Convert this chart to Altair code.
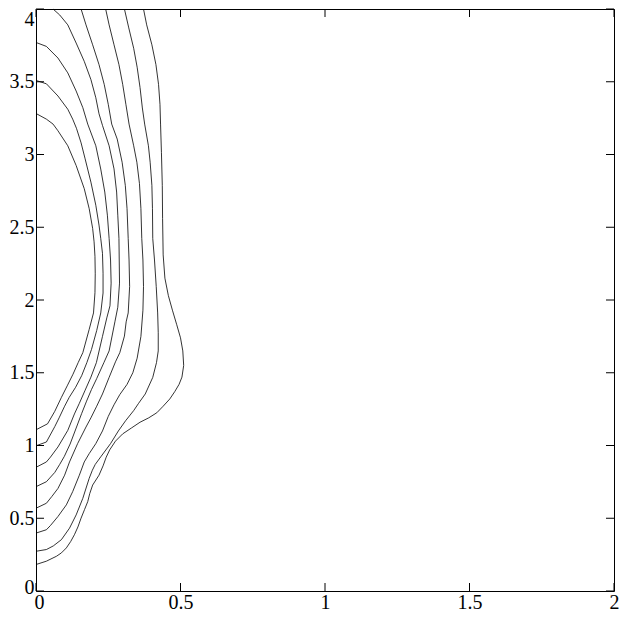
import altair as alt
import pandas as pd

x_ticks = [0, 0.5, 1, 1.5, 2]
y_ticks = [0, 0.5, 1, 1.5, 2, 2.5, 3, 3.5, 4]

contour_1 = [(0, 3.282), (0.036, 3.243), (0.059, 3.209), (0.076, 3.163), (0.110, 3.060), (0.139, 2.924),
             (0.167, 2.765), (0.184, 2.628), (0.196, 2.492), (0.201, 2.40), (0.204, 2.30), (0.205, 2.18),
             (0.204, 2.05), (0.199, 1.911), (0.184, 1.798), (0.162, 1.638), (0.146, 1.57), (0.128, 1.49),
             (0.108, 1.41), (0.088, 1.331), (0.065, 1.235), (0.040, 1.149), (0, 1.108)]
contour_2 = [(0, 3.509), (0.036, 3.486), (0.076, 3.402), (0.110, 3.311), (0.127, 3.243), (0.140, 3.18),
             (0.156, 3.08), (0.170, 2.97), (0.190, 2.81), (0.207, 2.651), (0.218, 2.515), (0.224, 2.423),
             (0.230, 2.321), (0.232, 2.184), (0.232, 2.048), (0.224, 1.911), (0.210, 1.79), (0.192, 1.66),
             (0.176, 1.57), (0.158, 1.48), (0.137, 1.40), (0.115, 1.331), (0.099, 1.27), (0.080, 1.19),
             (0.065, 1.13), (0.036, 1.024), (0, 0.998)]
contour_3 = [(0, 3.770), (0.036, 3.743), (0.076, 3.663), (0.110, 3.561), (0.139, 3.436), (0.162, 3.322),
             (0.179, 3.209), (0.207, 3.06), (0.224, 2.90), (0.238, 2.742), (0.247, 2.583), (0.253, 2.423),
             (0.258, 2.275), (0.260, 2.116), (0.256, 1.96), (0.245, 1.877), (0.230, 1.75), (0.209, 1.57),
             (0.190, 1.47), (0.170, 1.38), (0.150, 1.29), (0.133, 1.217), (0.110, 1.104), (0.076, 0.990),
             (0.050, 0.92), (0.036, 0.887), (0, 0.850)]
contour_4 = [(0.059, 4.0), (0.082, 3.959), (0.110, 3.891), (0.139, 3.766), (0.167, 3.64), (0.190, 3.515),
             (0.207, 3.39), (0.218, 3.28), (0.230, 3.2), (0.253, 3.06), (0.270, 2.901), (0.279, 2.742),
             (0.283, 2.583), (0.287, 2.423), (0.288, 2.275), (0.289, 2.116), (0.283, 1.95), (0.273, 1.85),
             (0.253, 1.65), (0.235, 1.57), (0.210, 1.46), (0.192, 1.385), (0.175, 1.305), (0.158, 1.22),
             (0.139, 1.12), (0.118, 1.01), (0.098, 0.925), (0.082, 0.87), (0.065, 0.815), (0.036, 0.751),
             (0, 0.717)]
contour_5 = [(0.156, 4.0), (0.173, 3.891), (0.196, 3.754), (0.218, 3.618), (0.236, 3.482), (0.250, 3.345),
             (0.262, 3.209), (0.281, 3.106), (0.298, 2.947), (0.309, 2.788), (0.315, 2.628), (0.319, 2.423),
             (0.322, 2.275), (0.324, 2.093), (0.319, 1.911), (0.312, 1.85), (0.306, 1.752), (0.290, 1.638),
             (0.275, 1.575), (0.253, 1.468), (0.230, 1.354), (0.210, 1.27), (0.190, 1.19), (0.173, 1.127),
             (0.144, 1.013), (0.116, 0.887), (0.099, 0.796), (0.076, 0.705), (0.055, 0.65), (0.036, 0.603),
             (0, 0.569)]
contour_6 = [(0.241, 4.0), (0.253, 3.891), (0.270, 3.754), (0.287, 3.618), (0.300, 3.482), (0.311, 3.345),
             (0.322, 3.209), (0.338, 3.06), (0.349, 2.947), (0.358, 2.8), (0.363, 2.628), (0.366, 2.423),
             (0.370, 2.275), (0.372, 2.093), (0.370, 1.93), (0.363, 1.75), (0.350, 1.60), (0.335, 1.50),
             (0.315, 1.42), (0.290, 1.35), (0.270, 1.28), (0.250, 1.20), (0.230, 1.10), (0.207, 1.013),
             (0.184, 0.944), (0.167, 0.887), (0.150, 0.796), (0.127, 0.683), (0.105, 0.592), (0.076, 0.512),
             (0.050, 0.45), (0.036, 0.421), (0, 0.398)]
contour_7 = [(0.306, 4.0), (0.321, 3.87), (0.338, 3.73), (0.350, 3.60), (0.360, 3.46), (0.368, 3.32),
             (0.376, 3.209), (0.389, 3.06), (0.395, 2.947), (0.401, 2.788), (0.403, 2.628), (0.404, 2.423),
             (0.410, 2.275), (0.416, 2.093), (0.421, 1.911), (0.423, 1.775), (0.423, 1.65), (0.417, 1.57),
             (0.404, 1.468), (0.378, 1.354), (0.355, 1.29), (0.338, 1.24), (0.310, 1.17), (0.285, 1.10),
             (0.258, 1.013), (0.224, 0.922), (0.205, 0.87), (0.195, 0.83), (0.184, 0.774), (0.162, 0.637),
             (0.139, 0.523), (0.116, 0.432), (0.088, 0.353), (0.060, 0.31), (0.036, 0.285), (0, 0.273)]
contour_8 = [(0.372, 4.0), (0.383, 3.891), (0.401, 3.754), (0.415, 3.618), (0.424, 3.482), (0.429, 3.345),
             (0.431, 3.209), (0.434, 3.015), (0.437, 2.788), (0.438, 2.56), (0.440, 2.31), (0.446, 2.15),
             (0.458, 2.03), (0.472, 1.93), (0.487, 1.83), (0.500, 1.74), (0.508, 1.65), (0.511, 1.55),
             (0.505, 1.47), (0.495, 1.42), (0.480, 1.37), (0.463, 1.32), (0.440, 1.27), (0.418, 1.225),
             (0.390, 1.19), (0.360, 1.16), (0.330, 1.12), (0.300, 1.08), (0.275, 1.03), (0.255, 0.97),
             (0.243, 0.92), (0.232, 0.86), (0.218, 0.796), (0.196, 0.728), (0.186, 0.67), (0.179, 0.614),
             (0.168, 0.56), (0.156, 0.501), (0.145, 0.44), (0.133, 0.387), (0.120, 0.34), (0.105, 0.296),
             (0.088, 0.262), (0.071, 0.239), (0.036, 0.205), (0, 0.182)]

contours = [contour_1, contour_2, contour_3, contour_4, contour_5, contour_6, contour_7, contour_8]

rows = []
for i, c in enumerate(contours):
    for j, (x, y) in enumerate(c):
        rows.append({"line": i, "ord": j, "x": x, "y": y})
df = pd.DataFrame(rows)

W, H = 578, 582
TICK = 8

xs = alt.Scale(domain=[0, 2], nice=False, zero=False)
ys = alt.Scale(domain=[0, 4], nice=False, zero=False)

x_axis = alt.Axis(values=x_ticks, format="~g", labelFlush=False, labelPadding=1, title="",
                  labelBaseline="top",
                  labelOffset={"condition": {"test": "datum.value === 0", "value": 3}, "value": 0})
y_axis = alt.Axis(values=y_ticks, format="~g", labelFlush=False, labelPadding=2, title="",
                  labelOffset={"condition": [{"test": "datum.value === 4", "value": 10},
                                             {"test": "datum.value === 0", "value": -4}],
                               "value": 0})

lines = alt.Chart(df).mark_line(color="black", strokeWidth=0.8).encode(
    x=alt.X("x:Q", scale=xs, axis=x_axis),
    y=alt.Y("y:Q", scale=ys, axis=y_axis),
    detail="line:N",
    order="ord:Q",
)

xt = pd.DataFrame({"t": x_ticks})
yt = pd.DataFrame({"t": y_ticks})

bottom = alt.Chart(xt).mark_rule(color="black", strokeWidth=1).encode(
    x=alt.X("t:Q", scale=xs, axis=x_axis), y=alt.value(H), y2=alt.value(H - TICK))
top = alt.Chart(xt).mark_rule(color="black", strokeWidth=1).encode(
    x=alt.X("t:Q", scale=xs, axis=x_axis), y=alt.value(0), y2=alt.value(TICK))
left = alt.Chart(yt).mark_rule(color="black", strokeWidth=1).encode(
    y=alt.Y("t:Q", scale=ys, axis=y_axis), x=alt.value(0), x2=alt.value(TICK))
right = alt.Chart(yt).mark_rule(color="black", strokeWidth=1).encode(
    y=alt.Y("t:Q", scale=ys, axis=y_axis), x=alt.value(W), x2=alt.value(W - TICK))

chart = alt.layer(lines, bottom, top, left, right).properties(
    width=W, height=H,
    padding={"left": 28, "top": 1, "right": 6, "bottom": 23},
    autosize=alt.AutoSizeParams(type="none"),
    background="white",
).configure_view(
    stroke="black", strokeWidth=1
).configure_axis(
    labelFont="Liberation Serif", labelFontSize=20, labelColor="black",
    grid=False, domain=False, ticks=False,
)

chart.save("out.html", embed_options={"renderer": "svg", "actions": False})
